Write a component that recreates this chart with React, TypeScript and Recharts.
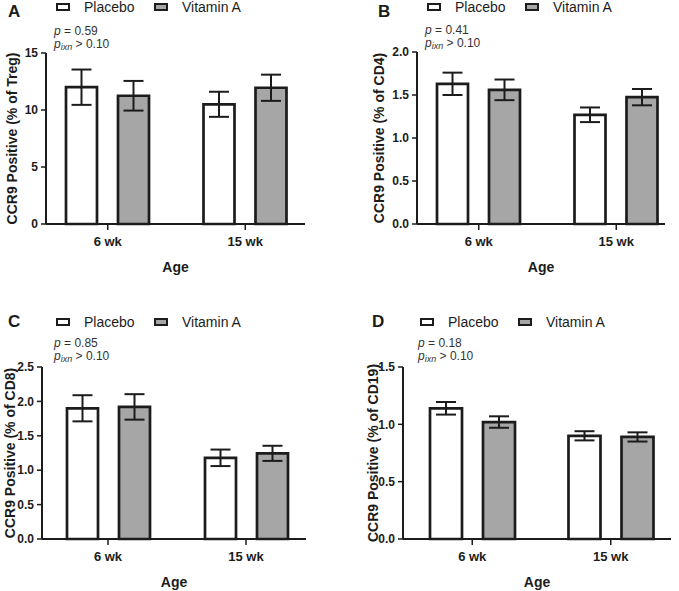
import { BarChart, Bar, XAxis, YAxis, ErrorBar, Label } from "recharts"

const ages = ["6 wk", "15 wk"]
const seriesNames = ["Placebo", "Vitamin A"]
const seriesFill = ["#ffffff", "#a6a6a6"]

// panel A - Treg
const tregPlacebo = [12.0, 10.5]
const tregPlaceboErr = [1.55, 1.1]
const tregVitA = [11.25, 11.95]
const tregVitAErr = [1.3, 1.15]

// panel B - CD4
const cd4Placebo = [1.63, 1.27]
const cd4PlaceboErr = [0.13, 0.085]
const cd4VitA = [1.56, 1.475]
const cd4VitAErr = [0.12, 0.095]

// panel C - CD8
const cd8Placebo = [1.9, 1.18]
const cd8PlaceboErr = [0.19, 0.12]
const cd8VitA = [1.92, 1.245]
const cd8VitAErr = [0.185, 0.11]

// panel D - CD19
const cd19Placebo = [1.14, 0.9]
const cd19PlaceboErr = [0.055, 0.04]
const cd19VitA = [1.02, 0.89]
const cd19VitAErr = [0.05, 0.04]

const pValues = ["0.59", "0.41", "0.85", "0.18"]

const FONT = '"Liberation Sans", Arial, sans-serif'
const INK = "#1c1c1c"

const rows = (pl: number[], plE: number[], va: number[], vaE: number[]) =>
  ages.map((age, i) => ({ age, placebo: pl[i], placeboErr: plE[i], vitA: va[i], vitAErr: vaE[i] }))

type Box = {
  x: number; y: number; w: number; h: number
  left: number; top: number; bottom: number; right: number
  padL: number; padR: number
  labelX: number; letterX: number; letterY: number
  legX: number; legY: number; pX: number; pY: number
  barSize: number
}

type PanelProps = {
  letter: string; yLabel: string; data: any[]; yMax: number; yTicks: number[]; digits: number; p: string; box: Box
}

// bars + axes
function MainChart({ yLabel, data, yMax, yTicks, digits, box }: PanelProps) {
  const midY = (box.top + box.bottom) / 2
  return (
    <BarChart
      width={box.w}
      height={box.h}
      data={data}
      margin={{ top: box.top, right: box.w - box.right, bottom: 0, left: 0 }}
      barSize={box.barSize}
      barGap={21}
    >
      <XAxis
        dataKey="age"
        height={box.h - box.bottom}
        padding={{ left: box.padL, right: box.padR }}
        interval={0}
        axisLine={{ stroke: INK, strokeWidth: 2 }}
        tickLine={{ stroke: INK, strokeWidth: 1.5 }}
        tickSize={6}
        tickMargin={7}
        tick={{ fill: INK, fontSize: 13, fontWeight: 700, fontFamily: FONT }}
      >
        <Label
          content={(props: any) => {
            const vb = props.viewBox
            return (
              <text x={vb.x + vb.width / 2} y={vb.y + 48} textAnchor="middle" fill={INK}
                style={{ fontSize: 14, fontWeight: 700, fontFamily: FONT }}>
                Age
              </text>
            )
          }}
        />
      </XAxis>
      <YAxis
        width={box.left}
        domain={[0, yMax]}
        ticks={yTicks}
        interval={0}
        tickFormatter={(v: number) => v.toFixed(digits)}
        axisLine={{ stroke: INK, strokeWidth: 2 }}
        tickLine={{ stroke: INK, strokeWidth: 1.5 }}
        tickSize={5}
        tickMargin={3}
        tick={{ fill: INK, fontSize: 12, fontWeight: 700, fontFamily: FONT }}
      >
        <Label
          content={() => (
            <text x={box.labelX} y={midY} textAnchor="middle" dominantBaseline="central" fill={INK}
              transform={`rotate(-90 ${box.labelX} ${midY})`}
              style={{ fontSize: 14, fontWeight: 700, fontFamily: FONT }}>
              {yLabel}
            </text>
          )}
        />
      </YAxis>
      <Bar dataKey="placebo" fill={seriesFill[0]} stroke={INK} strokeWidth={2.7} isAnimationActive={false} />
      <Bar dataKey="vitA" fill={seriesFill[1]} stroke={INK} strokeWidth={2.7} isAnimationActive={false} />
    </BarChart>
  )
}

// same layout with invisible bars, so the error bars sit on top of the filled bars
function ErrorOverlay({ data, yMax, box }: PanelProps) {
  return (
    <BarChart
      width={box.w}
      height={box.h}
      data={data}
      margin={{ top: box.top, right: box.w - box.right, bottom: box.h - box.bottom, left: box.left }}
      barSize={box.barSize}
      barGap={21}
    >
      <XAxis dataKey="age" hide padding={{ left: box.padL, right: box.padR }} />
      <YAxis hide domain={[0, yMax]} />
      <Bar dataKey="placebo" fill="none" stroke="none" isAnimationActive={false}>
        <ErrorBar dataKey="placeboErr" width={10} stroke={INK} strokeWidth={2} isAnimationActive={false} />
      </Bar>
      <Bar dataKey="vitA" fill="none" stroke="none" isAnimationActive={false}>
        <ErrorBar dataKey="vitAErr" width={10} stroke={INK} strokeWidth={2} isAnimationActive={false} />
      </Bar>
    </BarChart>
  )
}

function Panel(props: PanelProps) {
  const { letter, p, box } = props
  return (
    <div style={{ position: "absolute", left: box.x, top: box.y, width: box.w, height: box.h }}>
      <MainChart {...props} />
      <div style={{ position: "absolute", left: 0, top: 0 }}>
        <ErrorOverlay {...props} />
      </div>

      {/* panel letter */}
      <div style={{ position: "absolute", left: box.letterX, top: box.letterY - 10, lineHeight: "20px",
        fontSize: 17, fontWeight: 700, color: INK, fontFamily: FONT }}>{letter}</div>

      {/* legend */}
      {seriesNames.map((name, i) => (
        <div key={name} style={{ position: "absolute", left: box.legX + i * 98, top: box.legY - 10, height: 20,
          display: "flex", alignItems: "center", fontFamily: FONT, fontSize: 14, color: INK, whiteSpace: "nowrap" }}>
          <span style={{ display: "inline-block", width: 10, height: 4, border: `2.5px solid ${INK}`,
            background: seriesFill[i], marginRight: 14 }} />
          {name}
        </div>
      ))}

      {/* stats */}
      <div style={{ position: "absolute", left: box.pX, top: box.pY - 7, lineHeight: "14px",
        fontFamily: FONT, fontSize: 12, color: "#333", whiteSpace: "nowrap" }}>
        <i>p</i> = {p}
      </div>
      <div style={{ position: "absolute", left: box.pX, top: box.pY + 6, lineHeight: "14px",
        fontFamily: FONT, fontSize: 12, color: "#333", whiteSpace: "nowrap" }}>
        <i>p</i><sub style={{ fontSize: 9, fontStyle: "italic", verticalAlign: "-2px" }}>ixn</sub> &gt; 0.10
      </div>
    </div>
  )
}

const boxA: Box = { x: 0, y: 0, w: 340, h: 300, left: 46, top: 53, bottom: 224, right: 305, padL: -7, padR: -9,
  labelX: 12, letterX: 8, letterY: 12, legX: 56, legY: 7, pX: 54, pY: 31, barSize: 31 }
const boxB: Box = { x: 340, y: 0, w: 339, h: 300, left: 77, top: 52, bottom: 224, right: 325, padL: -7, padR: -20,
  labelX: 39, letterX: 38, letterY: 12, legX: 87, legY: 7, pX: 85, pY: 30, barSize: 31 }
const boxC: Box = { x: 0, y: 300, w: 340, h: 291, left: 42, top: 67, bottom: 239, right: 306, padL: -3, padR: -9,
  labelX: 10, letterX: 8, letterY: 22, legX: 56, legY: 22, pX: 54, pY: 43, barSize: 31 }
const boxD: Box = { x: 340, y: 300, w: 339, h: 291, left: 63, top: 67, bottom: 239, right: 331, padL: 0, padR: -9,
  labelX: 33, letterX: 32, letterY: 22, legX: 80, legY: 22, pX: 78, pY: 43, barSize: 32 }

export default function App() {
  return (
    <div style={{ position: "relative", width: 679, height: 591, background: "#fff", fontFamily: FONT }}>
      <style>{"body{margin:0}"}</style>
      <Panel letter="A" yLabel="CCR9 Positive (% of Treg)" p={pValues[0]} box={boxA}
        data={rows(tregPlacebo, tregPlaceboErr, tregVitA, tregVitAErr)} yMax={15} yTicks={[0, 5, 10, 15]} digits={0} />
      <Panel letter="B" yLabel="CCR9 Positive (% of CD4)" p={pValues[1]} box={boxB}
        data={rows(cd4Placebo, cd4PlaceboErr, cd4VitA, cd4VitAErr)} yMax={2} yTicks={[0, 0.5, 1, 1.5, 2]} digits={1} />
      <Panel letter="C" yLabel="CCR9 Positive (% of CD8)" p={pValues[2]} box={boxC}
        data={rows(cd8Placebo, cd8PlaceboErr, cd8VitA, cd8VitAErr)} yMax={2.5} yTicks={[0, 0.5, 1, 1.5, 2, 2.5]} digits={1} />
      <Panel letter="D" yLabel="CCR9 Positive (% of CD19)" p={pValues[3]} box={boxD}
        data={rows(cd19Placebo, cd19PlaceboErr, cd19VitA, cd19VitAErr)} yMax={1.5} yTicks={[0, 0.5, 1, 1.5]} digits={1} />
    </div>
  )
}
